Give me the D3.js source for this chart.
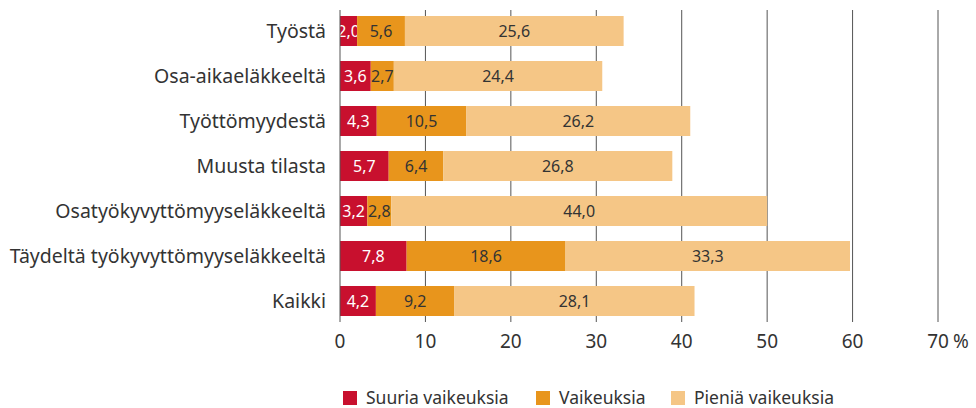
<!DOCTYPE html>
<html>
<head>
<meta charset="utf-8">
<script src="https://cdn.jsdelivr.net/npm/d3@7"></script>
<style>
  body { margin: 0; background: #fff; }
  text { font-family: "Noto Sans", sans-serif; fill: #333; }
</style>
</head>
<body>
<svg id="chart" width="976" height="408"></svg>
<script>
// categories, top to bottom
const categories = ['Työstä', 'Osa-aikaeläkkeeltä', 'Työttömyydestä', 'Muusta tilasta',
  'Osatyökyvyttömyyseläkkeeltä', 'Täydeltä työkyvyttömyyseläkkeeltä', 'Kaikki']

const suuria = [2.0, 3.6, 4.3, 5.7, 3.2, 7.8, 4.2]
const vaikeuksia = [5.6, 2.7, 10.5, 6.4, 2.8, 18.6, 9.2]
const pienia = [25.6, 24.4, 26.2, 26.8, 44.0, 33.3, 28.1]

const seriesNames = ['Suuria vaikeuksia', 'Vaikeuksia', 'Pieniä vaikeuksia']
const xTicks = [0, 10, 20, 30, 40, 50, 60, 70]

const colors = ['#c8102e', '#e8951c', '#f5c686']
const labelColors = ['#fff', '#333', '#333']

const svg = d3.select('#chart')

const x = d3.scaleLinear().domain([0, 70]).range([340, 938])
const y = d3.scaleBand().domain(categories).range([8.5, 323.5]).paddingInner(1/3).paddingOuter(1/6)

const rows = categories.map((c, i) => ({ cat: c, vals: [suuria[i], vaikeuksia[i], pienia[i]] }))

// grid lines
svg.append('g')
  .selectAll('line')
  .data(xTicks.slice(1))
  .enter().append('line')
  .attr('x1', d => x(d)).attr('x2', d => x(d))
  .attr('y1', 10).attr('y2', 322)
  .attr('stroke', '#555').attr('stroke-width', 1)

// bars
const rowG = svg.append('g').selectAll('g')
  .data(rows)
  .enter().append('g')
  .attr('transform', d => 'translate(0,' + y(d.cat) + ')')

rowG.each(function(d) {
  var g = d3.select(this)
  var start = 0
  d.vals.forEach(function(v, k) {
    g.append('rect')
      .attr('x', x(start))
      .attr('width', x(start + v) - x(start))
      .attr('y', 0)
      .attr('height', y.bandwidth())
      .attr('fill', colors[k])
    g.append('text')
      .attr('x', (x(start) + x(start + v)) / 2)
      .attr('y', y.bandwidth() / 2)
      .attr('dy', '0.35em')
      .attr('text-anchor', 'middle')
      .style('font-size', '16px')
      .style('fill', labelColors[k])
      .text(v.toFixed(1).replace('.', ','))
    start += v
  })
})

// zero axis line
svg.append('line')
  .attr('x1', x(0)).attr('x2', x(0))
  .attr('y1', 10).attr('y2', 322)
  .attr('stroke', '#555').attr('stroke-width', 1)

// category labels
svg.append('g').selectAll('text')
  .data(categories)
  .enter().append('text')
  .attr('x', 326)
  .attr('y', d => y(d) + y.bandwidth() / 2)
  .attr('dy', '0.35em')
  .attr('text-anchor', 'end')
  .style('font-size', '19.5px')
  .text(d => d)

// x tick labels
svg.append('g').selectAll('text')
  .data(xTicks)
  .enter().append('text')
  .attr('x', d => x(d))
  .attr('y', 341)
  .attr('dy', '0.35em')
  .attr('text-anchor', 'middle')
  .style('font-size', '19px')
  .text(d => d)

svg.append('text')
  .attr('x', x(70) + 15)
  .attr('y', 341)
  .attr('dy', '0.35em')
  .style('font-size', '19px')
  .text('%')

// legend
const legendX = [343, 536, 671]
const legend = svg.append('g').selectAll('g')
  .data(seriesNames)
  .enter().append('g')
  .attr('transform', (d, i) => 'translate(' + legendX[i] + ',391)')

legend.append('rect')
  .attr('width', 14).attr('height', 14)
  .attr('fill', (d, i) => colors[i])

legend.append('text')
  .attr('x', 23)
  .attr('y', 7)
  .attr('dy', '0.35em')
  .style('font-size', '17.5px')
  .text(d => d)
</script>
</body>
</html>
